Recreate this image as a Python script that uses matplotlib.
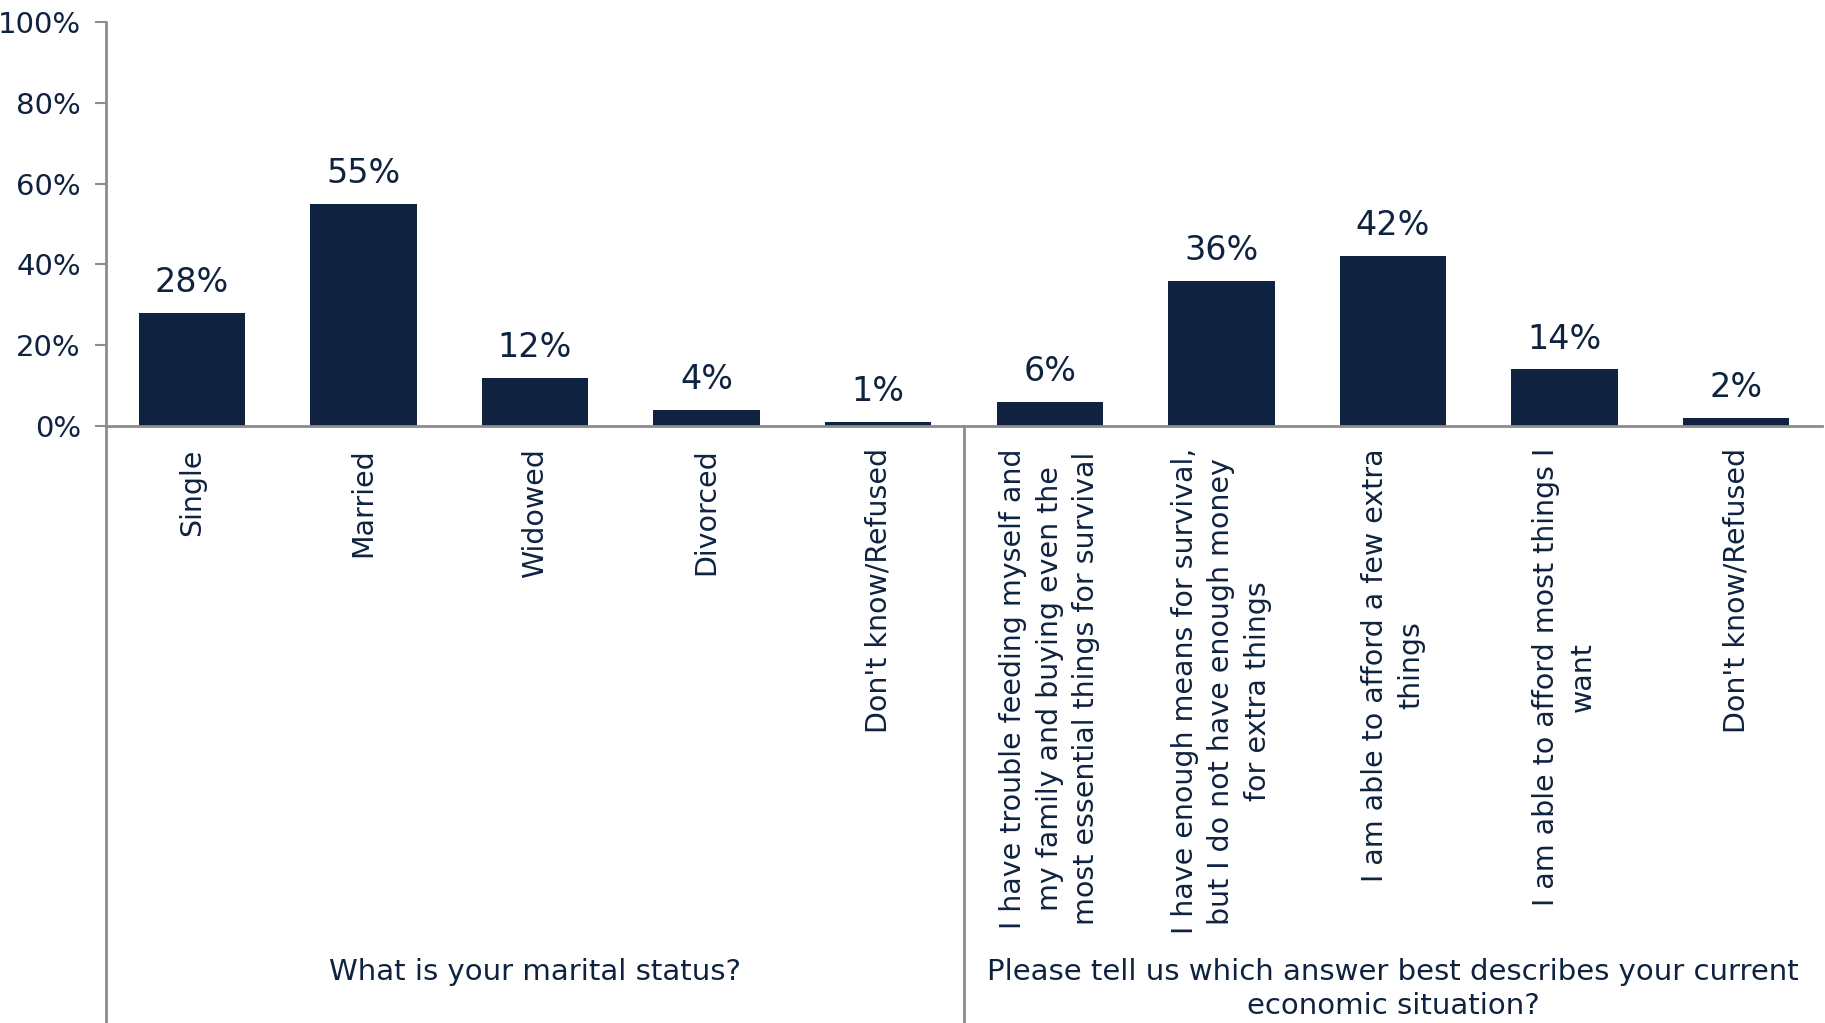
import matplotlib
matplotlib.use("Agg")
import matplotlib.pyplot as plt
from matplotlib.transforms import blended_transform_factory

plt.rcParams['font.family'] = ['DejaVu Sans']

categories = [
    "Single", "Married", "Widowed", "Divorced", "Don't know/Refused",
    "I have trouble feeding myself and\nmy family and buying even the\nmost essential things for survival",
    "I have enough means for survival,\nbut I do not have enough money\nfor extra things",
    "I am able to afford a few extra\nthings",
    "I am able to afford most things I\nwant",
    "Don't know/Refused",
]
values = [28, 55, 12, 4, 1, 6, 36, 42, 14, 2]
groups = ["What is your marital status?",
          "Please tell us which answer best describes your current\neconomic situation?"]
group_sizes = [5, 5]
yticks = [0, 20, 40, 60, 80, 100]

BAR = "#0F2340"
AX = "#8C8C8E"
TXT = "#0F2340"

fig = plt.figure(figsize=(18.25, 10.23), dpi=100)
ax = fig.add_axes([106/1825, 597/1023, (1822-106)/1825, 404/1023])
x = list(range(len(values)))
ax.bar(x, values, width=0.62, color=BAR)
ax.set_xlim(-0.5, len(values) - 0.5)
ax.set_ylim(0, 100)
ax.set_yticks(yticks)
ax.set_yticklabels([f"{v}%" for v in yticks], fontsize=21, color=TXT)
ax.tick_params(axis='y', length=8, width=1.5, color=AX, pad=10)
ax.set_xticks([])
for s in ['top', 'right']:
    ax.spines[s].set_visible(False)
for s in ['left', 'bottom']:
    ax.spines[s].set_color(AX)
    ax.spines[s].set_linewidth(2)

for xi, v in zip(x, values):
    ax.annotate(f"{v}%", (xi, v), xytext=(0, 10), textcoords='offset points',
                ha='center', va='bottom', fontsize=24, color=TXT)

trans = blended_transform_factory(ax.transData, ax.transAxes)
for xi, lab in zip(x, categories):
    ax.text(xi, -0.055, lab, rotation=90, ha='center', va='top', fontsize=20.5,
            color=TXT, multialignment='center', linespacing=1.38, transform=trans)

# left axis extension and group divider
ax.plot([-0.5, -0.5], [0, -1.6], transform=trans, color=AX, lw=2, clip_on=False)
start = 0
for i, (g, n) in enumerate(zip(groups, group_sizes)):
    center = start + (n - 1) / 2
    ax.text(center, -1.318, g, ha='center', va='top', fontsize=21, color=TXT,
            multialignment='center', linespacing=1.25, transform=trans)
    if i > 0:
        ax.plot([start - 0.5, start - 0.5], [0, -1.6], transform=trans, color=AX, lw=2, clip_on=False)
    start += n

fig.savefig("out.png", dpi=100)
